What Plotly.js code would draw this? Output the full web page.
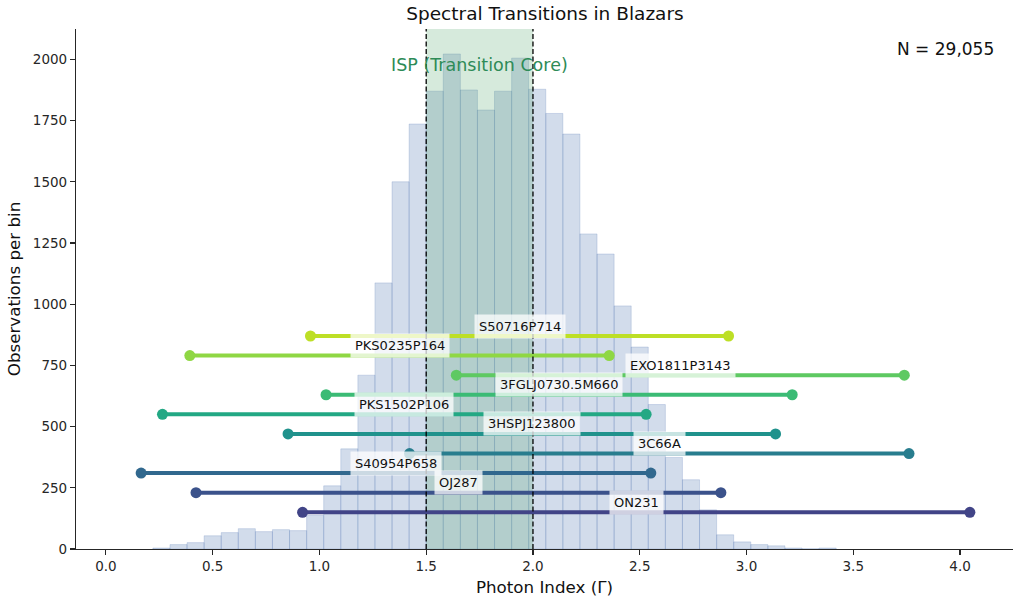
<!DOCTYPE html>
<html>
<head>
<meta charset="utf-8">
<script src="https://cdn.plot.ly/plotly-3.0.1.min.js"></script>
<style>html,body{margin:0;padding:0;background:#fff;}#chart{width:1021px;height:602px;}</style>
</head>
<body>
<div id="chart"></div>
<script>
// ---- Data ----
const BIN_START = 0.22;
const BIN_WIDTH = 0.08;
const BIN_COUNTS = [4, 18, 26, 54, 67, 83, 71, 79, 75, 137, 258, 409, 710, 1087, 1500, 1736,
  1870, 2022, 1875, 1793, 1870, 2005, 1878, 1779, 1695,
  1287, 1205, 993, 825, 590, 374, 283, 160, 58, 29, 18, 13, 4, 1, 4];

const SOURCE_NAMES = ['ON231', 'OJ287', 'S40954P658', '3C66A', '3HSPJ123800', 'PKS1502P106',
  '3FGLJ0730.5M660', 'EXO1811P3143', 'PKS0235P164', 'S50716P714'];
const SOURCE_LEVEL = [150, 230, 310, 390, 470, 550, 630, 710, 790, 870];
const SOURCE_START = [0.921, 0.422, 0.165, 1.422, 0.853, 0.265, 1.031, 1.641, 0.393, 0.958];
const SOURCE_END = [4.046, 2.880, 2.552, 3.761, 3.136, 2.530, 3.214, 3.739, 2.357, 2.916];
const SOURCE_COLORS = ['#414487', '#3b528b', '#31688e', '#287d8e', '#20928c', '#23a884',
  '#3bbb75', '#5ec962', '#8fd744', '#bddf26'];

const ISP_RANGE = [1.5, 2.0];
const ISP_LABEL = 'ISP (Transition Core)';
const N_LABEL = 'N = 29,055';
const X_RANGE = [-0.14, 4.248];
const Y_RANGE = [0, 2124];

// ---- Traces ----
const FONT = 'DejaVu Sans, Verdana, sans-serif';
const INK = '#262626';
const traces = [];

const centers = BIN_COUNTS.map((_, i) => BIN_START + BIN_WIDTH * (i + 0.5));
traces.push({
  type: 'bar', x: centers, y: BIN_COUNTS, width: BIN_WIDTH,
  marker: {color: 'rgba(76,114,176,0.25)', line: {color: 'rgba(76,114,176,0.22)', width: 1}},
  hoverinfo: 'skip', showlegend: false
});

traces.push({
  type: 'scatter', mode: 'lines',
  x: [ISP_RANGE[0], ISP_RANGE[1], ISP_RANGE[1], ISP_RANGE[0], ISP_RANGE[0]],
  y: [Y_RANGE[0], Y_RANGE[0], Y_RANGE[1], Y_RANGE[1], Y_RANGE[0]],
  fill: 'toself', fillcolor: 'rgba(70,160,95,0.22)', line: {width: 0},
  hoverinfo: 'skip', showlegend: false
});

const annotations = [];
SOURCE_NAMES.forEach((name, i) => {
  traces.push({
    type: 'scatter', mode: 'lines+markers',
    x: [SOURCE_START[i], SOURCE_END[i]], y: [SOURCE_LEVEL[i], SOURCE_LEVEL[i]],
    line: {color: SOURCE_COLORS[i], width: 4},
    marker: {color: SOURCE_COLORS[i], size: 11},
    hoverinfo: 'skip', showlegend: false
  });
  annotations.push({
    x: (SOURCE_START[i] + SOURCE_END[i]) / 2, y: SOURCE_LEVEL[i], xref: 'x', yref: 'y',
    yshift: 10, text: name, showarrow: false,
    font: {family: FONT, size: 13, color: '#111'},
    bgcolor: 'rgba(255,255,255,0.75)', borderpad: 4
  });
});

annotations.push({
  x: (ISP_RANGE[0] + ISP_RANGE[1]) / 2, y: 1979, xref: 'x', yref: 'y',
  text: ISP_LABEL, showarrow: false,
  font: {family: FONT, size: 17.5, color: '#2e8b57'}
});
annotations.push({
  x: 0.982, y: 0.962, xref: 'paper', yref: 'paper', xanchor: 'right', yanchor: 'middle',
  text: N_LABEL, showarrow: false,
  font: {family: FONT, size: 17, color: '#111'}
});

const shapes = ISP_RANGE.map(v => ({
  type: 'line', xref: 'x', yref: 'paper', x0: v, x1: v, y0: 0, y1: 1,
  line: {color: '#000', width: 1.3, dash: '5px,2.5px'}, layer: 'above'
}));

const axisCommon = {
  showgrid: false, zeroline: false, showline: true, linecolor: INK, linewidth: 1.1,
  ticks: 'outside', ticklen: 5, tickwidth: 1.1, tickcolor: INK,
  tickfont: {family: FONT, size: 13.5, color: INK}
};

const layout = {
  width: 1021, height: 602,
  margin: {l: 76, r: 8, t: 29, b: 53},
  paper_bgcolor: '#fff', plot_bgcolor: '#fff',
  bargap: 0,
  title: {text: 'Spectral Transitions in Blazars', x: 0.5005, xref: 'paper',
    y: 0.977, yref: 'container', yanchor: 'middle',
    font: {family: FONT, size: 18.5, color: '#111'}},
  xaxis: Object.assign({}, axisCommon, {
    range: X_RANGE, tick0: 0, dtick: 0.5, tickformat: '.1f',
    title: {text: 'Photon Index (Γ)', font: {family: FONT, size: 16.7, color: '#111'}, standoff: 8}
  }),
  yaxis: Object.assign({}, axisCommon, {
    range: Y_RANGE, tick0: 0, dtick: 250,
    title: {text: 'Observations per bin', font: {family: FONT, size: 16.7, color: '#111'}, standoff: 8}
  }),
  shapes: shapes,
  annotations: annotations,
  showlegend: false
};

Plotly.newPlot('chart', traces, layout, {displayModeBar: false, staticPlot: true});
</script>
</body>
</html>
